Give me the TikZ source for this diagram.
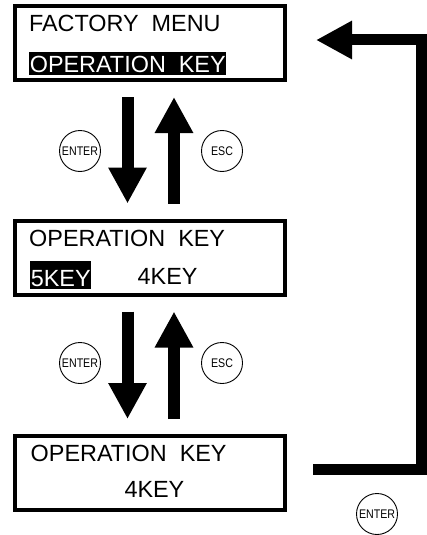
\documentclass[tikz,border=0pt]{standalone}
\usepackage{fontspec}
\setmainfont{Liberation Sans}
\usetikzlibrary{arrows.meta}
\newcommand{\keylabel}[1]{\scalebox{0.85}[1]{#1}}

\begin{document}
\begin{tikzpicture}[x=1pt, y=-1pt,
    lcd/.style={draw, line width=4pt, minimum width=270pt, minimum height=74pt, inner sep=0pt},
    lcdtext/.style={anchor=base west, inner sep=0pt, font=\fontsize{23.4}{26}\selectfont},
    selected/.style={lcdtext, fill=black, text=white, inner xsep=0.6pt, text height=20pt, text depth=3pt},
    keybtn/.style={draw, circle, line width=0.9pt, minimum size=41pt, inner sep=0pt, font=\fontsize{12.5}{13}\selectfont},
    flow/.style={line width=12pt, -{Triangle[width=36pt, length=36pt]}},
    back/.style={line width=11pt, line join=miter, -{Triangle[width=36pt, length=36pt]}}]
    \useasboundingbox (0,0) rectangle (426,535);

    % 1. The three display screens
    \node[lcd] (box1) at (150, 43) {};
    \node[lcd] (box2) at (150, 257.5) {};
    \node[lcd] (box3) at (150, 473) {};

    % 2. Screen texts (white on black = selected item)
    \node[lcdtext] (title) at (28.8, 32) {FACTORY\ \ MENU};
    \node[selected] (opsel) at (29, 72) {OPERATION\ \ KEY};
    \node[lcdtext] (head2) at (29, 246.7) {OPERATION\ \ KEY};
    \node[selected, text height=25pt] (key5) at (30, 286) {5KEY};
    \node[lcdtext] (key4a) at (137.5, 284.5) {4KEY};
    \node[lcdtext] (head3) at (30.5, 461.7) {OPERATION\ \ KEY};
    \node[lcdtext] (key4b) at (124.3, 497.3) {4KEY};

    % 3. Key buttons
    \node[keybtn] (enter1) at (80, 151) {\keylabel{ENTER}};
    \node[keybtn] (esc1) at (222, 151) {\keylabel{ESC}};
    \node[keybtn] (enter2) at (80, 363) {\keylabel{ENTER}};
    \node[keybtn] (esc2) at (222, 363) {\keylabel{ESC}};
    \node[keybtn] (enter3) at (377, 514) {\keylabel{ENTER}};

    % 4. Arrows between the screens
    \draw[flow] ([xshift=-22.5pt, yshift=-15pt]box1.south) -- ([xshift=-22.5pt, yshift=15pt]box2.north);
    \draw[flow] ([xshift=24pt, yshift=15pt]box2.north) -- ([xshift=24pt, yshift=-15pt]box1.south);
    \draw[flow] ([xshift=-22.5pt, yshift=-15pt]box2.south) -- ([xshift=-22.5pt, yshift=15pt]box3.north);
    \draw[flow] ([xshift=24pt, yshift=15pt]box3.north) -- ([xshift=24pt, yshift=-15pt]box2.south);

    % 5. Way back to the factory menu
    \coordinate (rtop) at (421, 40);
    \draw[back] ([xshift=26pt, yshift=4pt]box3.east) -| (rtop) -- ([xshift=29pt, yshift=3pt]box1.east);
\end{tikzpicture}
\end{document}
